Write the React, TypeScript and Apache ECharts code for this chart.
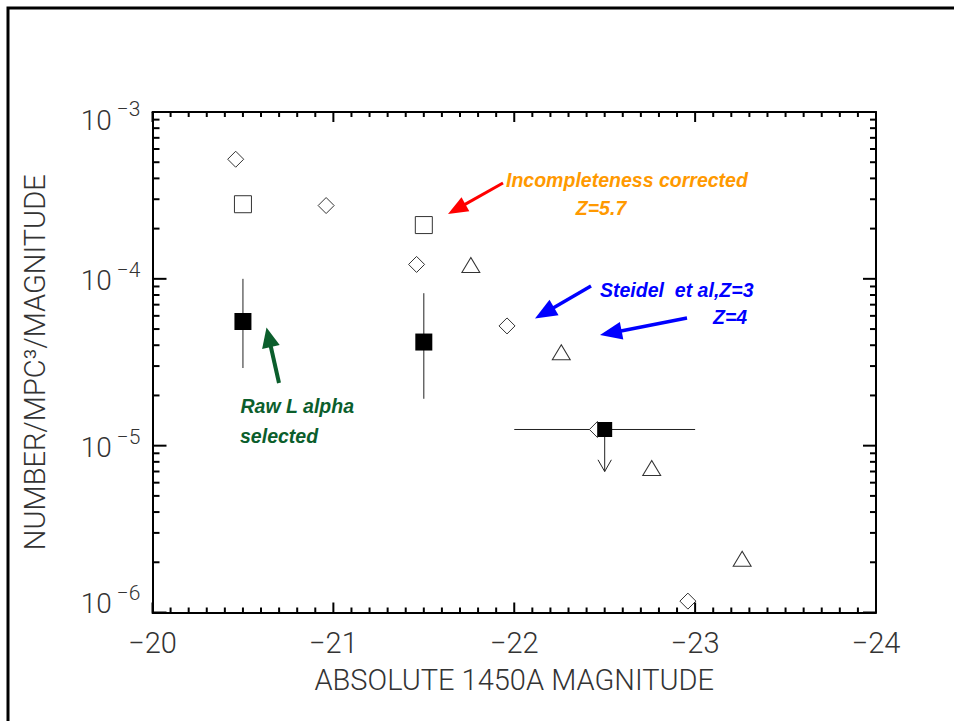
import React, { useEffect, useRef } from 'react';
import * as echarts from 'echarts';

// ---- data ----
// Steidel et al, Z=3 (open diamonds)
const steidelZ3X = [-20.46, -20.96, -21.46, -21.96, -22.46, -22.96];
const steidelZ3Y = [5.21e-4, 2.75e-4, 1.22e-4, 5.22e-5, 1.25e-5, 1.17e-6];
// Steidel et al, Z=4 (open triangles)
const steidelZ4X = [-21.76, -22.26, -22.76, -23.26];
const steidelZ4Y = [1.21e-4, 3.63e-5, 7.35e-6, 2.1e-6];
// Incompleteness corrected, Z=5.7 (open squares)
const correctedX = [-20.5, -21.5];
const correctedY = [2.8e-4, 2.1e-4];
// Raw L alpha selected (filled squares with vertical error bars)
const rawX = [-20.5, -21.5];
const rawY = [5.55e-5, 4.18e-5];
const rawLow = [2.92e-5, 1.91e-5];
const rawHigh = [1.0e-4, 8.2e-5];
// Raw upper-limit point (filled square, horizontal bar, down arrow)
const limX = [-22.5];
const limY = [1.25e-5];
const limXFrom = [-22.0];
const limXTo = [-23.0];
const limArrowTo = [7.0e-6];

// axes
const xMin = -24;
const xMax = -20;
const yMin = 1e-6;
const yMax = 1e-3;
const xMajorTicks = [-20, -21, -22, -23, -24];
const yDecadeTicks = [1e-6, 1e-5, 1e-4, 1e-3];
const yMinorMultipliers = [2, 3, 4, 5, 6, 7, 8, 9];

const FONT = 'Roboto, "DejaVu Sans", sans-serif';
const ANN_FONT = '"Liberation Sans", Arial, sans-serif';

function arrow(x1: number, y1: number, x2: number, y2: number, color: string, w: number, hl: number, hw: number) {
  const dx = x2 - x1;
  const dy = y2 - y1;
  const len = Math.sqrt(dx * dx + dy * dy);
  const ux = dx / len;
  const uy = dy / len;
  const bx = x2 - ux * hl;
  const by = y2 - uy * hl;
  const px = -uy;
  const py = ux;
  return [
    {
      type: 'line',
      shape: { x1, y1, x2: bx + ux * 2, y2: by + uy * 2 },
      style: { stroke: color, lineWidth: w },
    },
    {
      type: 'polygon',
      shape: {
        points: [
          [x2, y2],
          [bx + px * hw, by + py * hw],
          [bx - px * hw, by - py * hw],
        ],
      },
      style: { fill: color },
    },
  ];
}

function annText(text: string, x: number, y: number, color: string, align: string) {
  return {
    type: 'text',
    x,
    y,
    scaleX: 0.93,
    style: {
      text,
      fill: color,
      font: `italic bold 21px ${ANN_FONT}`,
      textAlign: align,
      textVerticalAlign: 'middle',
    },
  };
}

function xAxisDef(position: string, withLabels: boolean) {
  const ax: any = {
    type: 'value',
    min: xMin,
    max: xMax,
    interval: 1,
    inverse: true,
    position,
    splitLine: { show: false },
    axisLine: { show: true, onZero: false, lineStyle: { color: '#000', width: 2 } },
    axisTick: { show: false },
    minorTick: { show: false },
    axisLabel: { show: false },
  };
  if (withLabels) {
    ax.name = 'ABSOLUTE 1450A MAGNITUDE';
    ax.nameLocation = 'middle';
    ax.nameGap = 53;
    ax.nameTextStyle = { fontSize: 29, fontFamily: FONT, fontWeight: 300, color: '#333' };
    ax.axisLabel = {
      show: true,
      margin: 16,
      fontSize: 29,
      fontFamily: FONT,
      fontWeight: 300,
      color: '#333',
      formatter: (v: number) => '\u2212' + Math.abs(v),
    };
  }
  return ax;
}

function richA(pad: number[]) {
  return { fontSize: 28, lineHeight: 28, fontFamily: FONT, fontWeight: 300, color: '#333', padding: pad };
}
function richB(pad: number[]) {
  return { fontSize: 21, lineHeight: 21, fontFamily: FONT, fontWeight: 300, color: '#333', padding: pad };
}

function yAxisDef(position: string, withLabels: boolean) {
  const ax: any = {
    type: 'log',
    logBase: 10,
    min: yMin,
    max: yMax,
    position,
    splitLine: { show: false },
    axisLine: { show: true, onZero: false, lineStyle: { color: '#000', width: 2 } },
    axisTick: { show: false },
    minorTick: { show: false },
    axisLabel: { show: false },
  };
  if (withLabels) {
    ax.name = 'NUMBER/MPC\u00B3/MAGNITUDE';
    ax.nameLocation = 'middle';
    ax.nameGap = 103;
    ax.nameTextStyle = { fontSize: 29, fontFamily: FONT, fontWeight: 300, color: '#333' };
    ax.axisLabel = {
      show: true,
      margin: 12,
      formatter: (v: number) => {
        const e = Math.round(Math.log10(v));
        const s = e === -3 ? 't' : e === -6 ? 'd' : 'n';
        return `{a${s}|10}{b${s}|\u2212${Math.abs(e)}}`;
      },
      rich: {
        an: richA([4, 0, 0, 0]),
        bn: richB([0, 0, 18, 5]),
        at: richA([16, 0, 0, 0]),
        bt: richB([0, 0, 6, 5]),
        ad: richA([0, 0, 18, 0]),
        bd: richB([0, 0, 40, 5]),
      },
    };
  }
  return ax;
}

export default function App() {
  const ref = useRef<HTMLDivElement>(null);

  useEffect(() => {
    document.body.style.margin = '0';
    const chart = echarts.init(ref.current!, null, { renderer: 'svg' });

    const openStyle = () => ({ color: '#fff', borderColor: '#333', borderWidth: 1, opacity: 1 });

    // tick mark table: [x, y, kind]  kind 0 = x major, 1 = x minor, 2 = y major, 3 = y minor
    const tickRows: number[][] = [];
    xMajorTicks.forEach((x) => tickRows.push([x, yMin, 0]));
    for (let i = 0; i < xMajorTicks.length - 1; i++) {
      for (let k = 1; k <= 9; k++) tickRows.push([xMajorTicks[i] - k / 10, yMin, 1]);
    }
    yDecadeTicks.forEach((y) => tickRows.push([xMax, y, 2]));
    for (let i = 0; i < yDecadeTicks.length - 1; i++) {
      yMinorMultipliers.forEach((m) => tickRows.push([xMax, yDecadeTicks[i] * m, 3]));
    }

    const option: any = {
      animation: false,
      grid: {
        left: 152.5,
        right: 78,
        top: 112,
        bottom: 108.5,
      },
      xAxis: [xAxisDef('bottom', true), xAxisDef('top', false)],
      yAxis: [yAxisDef('left', true), yAxisDef('right', false)],
      series: [
        {
          type: 'custom',
          name: 'raw error bars',
          xAxisIndex: 0,
          yAxisIndex: 0,
          data: rawX.map((x, i) => [x, rawY[i], rawLow[i], rawHigh[i]]),
          renderItem: (params: any, api: any) => {
            const x = api.value(0);
            const p1 = api.coord([x, api.value(3)]);
            const p2 = api.coord([x, api.value(2)]);
            return {
              type: 'line',
              shape: { x1: p1[0], y1: p1[1], x2: p2[0], y2: p2[1] },
              style: { stroke: '#222', lineWidth: 1 },
            };
          },
        },
        {
          type: 'custom',
          name: 'upper limit',
          xAxisIndex: 0,
          yAxisIndex: 0,
          data: limX.map((x, i) => [x, limY[i], limXFrom[i], limXTo[i], limArrowTo[i]]),
          renderItem: (params: any, api: any) => {
            const c = api.coord([api.value(0), api.value(1)]);
            const a = api.coord([api.value(2), api.value(1)]);
            const b = api.coord([api.value(3), api.value(1)]);
            const t = api.coord([api.value(0), api.value(4)]);
            const st = { stroke: '#222', lineWidth: 1, fill: 'none' };
            return {
              type: 'group',
              children: [
                { type: 'line', shape: { x1: a[0], y1: a[1], x2: b[0], y2: b[1] }, style: st },
                { type: 'line', shape: { x1: c[0], y1: c[1], x2: t[0], y2: t[1] }, style: st },
                {
                  type: 'polyline',
                  shape: { points: [[t[0] - 6.7, t[1] - 11.7], [t[0], t[1]], [t[0] + 6.7, t[1] - 11.7]] },
                  style: st,
                },
              ],
            };
          },
        },
        {
          type: 'scatter',
          name: 'Steidel et al, Z=3',
          xAxisIndex: 0,
          yAxisIndex: 0,
          symbol: 'diamond',
          symbolSize: [16, 16],
          itemStyle: openStyle(),
          data: steidelZ3X.map((x, i) => [x, steidelZ3Y[i]]),
        },
        {
          type: 'scatter',
          name: 'Steidel et al, Z=4',
          xAxisIndex: 0,
          yAxisIndex: 0,
          symbol: 'triangle',
          symbolSize: [18, 15],
          itemStyle: openStyle(),
          data: steidelZ4X.map((x, i) => [x, steidelZ4Y[i]]),
        },
        {
          type: 'scatter',
          name: 'Incompleteness corrected Z=5.7',
          xAxisIndex: 0,
          yAxisIndex: 0,
          symbol: 'rect',
          symbolSize: 17,
          itemStyle: openStyle(),
          data: correctedX.map((x, i) => [x, correctedY[i]]),
        },
        {
          type: 'scatter',
          name: 'Raw L alpha selected',
          xAxisIndex: 0,
          yAxisIndex: 0,
          symbol: 'rect',
          itemStyle: { color: '#000', opacity: 1 },
          data: [
            ...rawX.map((x, i) => ({ value: [x, rawY[i]], symbolSize: 17 })),
            ...limX.map((x, i) => ({ value: [x, limY[i]], symbolSize: 15 })),
          ],
        },
        {
          type: 'custom',
          name: 'axis ticks',
          xAxisIndex: 0,
          yAxisIndex: 0,
          z: 10,
          silent: true,
          clip: false,
          data: tickRows,
          renderItem: (params: any, api: any) => {
            const kind = api.value(2);
            const st = { stroke: '#000', lineWidth: 2 };
            if (kind === 0 || kind === 1) {
              const x = api.value(0);
              const L = kind === 0 ? 10 : 5;
              const b = api.coord([x, yMin]);
              const t = api.coord([x, yMax]);
              return {
                type: 'group',
                children: [
                  { type: 'line', shape: { x1: b[0], y1: b[1], x2: b[0], y2: b[1] - L }, style: st },
                  { type: 'line', shape: { x1: t[0], y1: t[1], x2: t[0], y2: t[1] + L }, style: st },
                ],
              };
            }
            const y = api.value(1);
            const Ll = kind === 2 ? 14 : 7;
            const Lr = kind === 2 ? 13 : 6;
            const l = api.coord([xMax, y]);
            const r = api.coord([xMin, y]);
            return {
              type: 'group',
              children: [
                { type: 'line', shape: { x1: l[0], y1: l[1], x2: l[0] + Ll, y2: l[1] }, style: st },
                { type: 'line', shape: { x1: r[0], y1: r[1], x2: r[0] - Lr, y2: r[1] }, style: st },
              ],
            };
          },
        },
      ],
      graphic: [
        {
          type: 'rect',
          shape: { x: 8, y: 8, width: 1000, height: 800 },
          style: { fill: 'none', stroke: '#000', lineWidth: 3 },
          silent: true,
        },
        ...arrow(503, 183, 448, 214, '#ff0000', 3, 20, 8),
        ...arrow(591, 286, 535, 318.5, '#0000ff', 3.5, 22, 9),
        ...arrow(687, 318, 600, 335, '#0000ff', 3.5, 22, 9),
        ...arrow(279, 383, 266.5, 327.5, '#0b5e2c', 4, 20, 9),
        annText('Incompleteness corrected', 506, 180, '#ff9900', 'left'),
        annText('Z=5.7', 601, 207.5, '#ff9900', 'center'),
        annText('Steidel  et al,Z=3', 600, 289.5, '#0000ff', 'left'),
        annText('Z=4', 713, 317, '#0000ff', 'left'),
        annText('Raw L alpha', 240.5, 406, '#0b5e2c', 'left'),
        annText('selected', 240, 436, '#0b5e2c', 'left'),
      ],
    };

    chart.setOption(option);
    return () => chart.dispose();
  }, []);

  return <div ref={ref} style={{ width: 954, height: 721 }} />;
}
